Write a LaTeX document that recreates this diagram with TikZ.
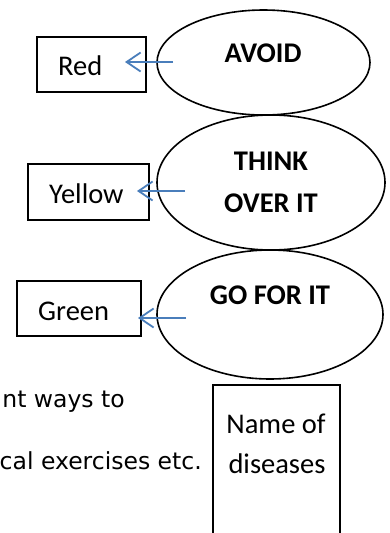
\documentclass[tikz,border=0pt]{standalone}
\usepackage{fontspec}
\setmainfont{Carlito}
\newfontfamily\comicfont{DejaVu Sans}
\usetikzlibrary{arrows.meta,shapes.geometric}
\definecolor{arrowblue}{RGB}{74,126,187}
\begin{document}
\begin{tikzpicture}[x=1pt,y=-1pt,
  box/.style={draw, line width=1.2pt, inner sep=0},
  oval/.style={draw, ellipse, line width=1.6pt, inner sep=0, fill=white},
  lbl/.style={inner sep=0, font=\fontsize{28.5}{34}\selectfont},
  blbl/.style={inner sep=0, anchor=base, font=\fontsize{28.5}{34}\selectfont\bfseries},
  arr/.style={draw=arrowblue, line width=1.8pt, -{Straight Barb[length=14pt,width=19pt]}},
  side/.style={anchor=base east, inner sep=0, font=\comicfont\fontsize{23.5}{28}\selectfont}]
\clip (0,0) rectangle (390,533);
\fill[white] (0,0) rectangle (390,533);

% boxes
\node[box, minimum width=109pt, minimum height=55pt] (red) at (91.5,64.5) {};
\node[box, minimum width=121pt, minimum height=56pt] (yellow) at (88.5,192) {};
\node[box, minimum width=124pt, minimum height=55pt] (green) at (79,308.5) {};
\node[box, minimum width=127pt, minimum height=170pt] (names) at (276.5,470) {};

% ellipses
\node[oval, minimum width=213pt, minimum height=105pt] (e1) at (263.5,62.5) {};
\node[oval, minimum width=228pt, minimum height=135pt] (e2) at (271,182.5) {};
\node[oval, minimum width=226pt, minimum height=129pt] (e3) at (270,314.5) {};

% texts
\node[lbl, anchor=base west] (tred) at (58,75) {Red};
\node[lbl, anchor=base west] (tyellow) at (49,203) {Yellow};
\node[lbl, anchor=base west] (tgreen) at (38,320) {Green};
\node[blbl] (tavoid) at (263,62) {AVOID};
\node[blbl] (tthink) at (271,170) {THINK};
\node[blbl] (tover) at (271,212) {OVER IT};
\node[blbl] (tgo) at (270,304) {GO FOR IT};
\node[lbl, anchor=base] (tname) at (276,433) {Name of};
\node[lbl, anchor=base] (tdis) at (277,473) {diseases};
\node[side] (s1) at (125,407) {nt ways to};
\node[side] (s2) at (202,469) {cal exercises etc.};

% arrows
\coordinate (a1s) at (173,62);
\coordinate (a1e) at (125,62);
\coordinate (a2s) at (185,191);
\coordinate (a2e) at (137,191);
\coordinate (a3s) at (186,318);
\coordinate (a3e) at (138,318);
\draw[arr] (a1s) -- (a1e);
\draw[arr] (a2s) -- (a2e);
\draw[arr] (a3s) -- (a3e);
\end{tikzpicture}
\end{document}
